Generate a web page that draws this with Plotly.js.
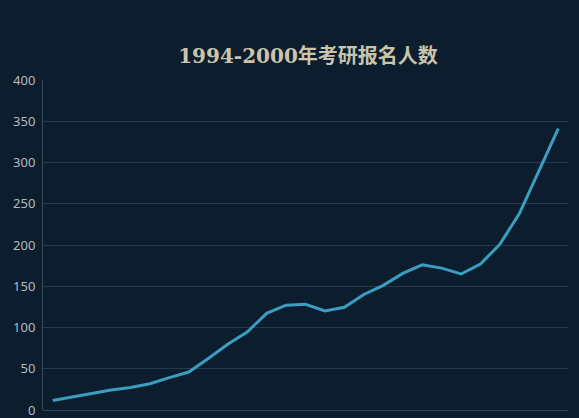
<!DOCTYPE html>
<html>
<head>
<meta charset="utf-8">
<script src="https://cdn.plot.ly/plotly-3.0.1.min.js"></script>
<style>html,body{margin:0;padding:0;background:#0c1d2d;}#chart{width:579px;height:418px;}</style>
</head>
<body>
<div id="chart"></div>
<script>
const years = ['1994','1995','1996','1997','1998','1999','2000','2001','2002','2003','2004','2005','2006','2007','2008','2009','2010','2011','2012','2013','2014','2015','2016','2017','2018','2019','2020'];
const applicants = [11.4,15.5,20.4,24.2,27.4,31.9,39.2,46,62.4,79.7,94.5,117.2,127.1,128.2,120,124.6,140,151.1,165.6,176,172,164.9,177,201,238,290,341];
const yTicks = [0,50,100,150,200,250,300,350,400];
const titleText = '1994-2000年考研报名人数';

Plotly.newPlot('chart', [{
  x: years, y: applicants, type: 'scatter', mode: 'lines',
  line: {color: '#3a9ec0', width: 3},
  hoverinfo: 'x+y'
}], {
  width: 579, height: 418,
  paper_bgcolor: '#0c1d2d', plot_bgcolor: '#0c1d2d',
  margin: {l: 43, r: 11, t: 80, b: 8},
  title: {text: '<b>' + titleText + '</b>', x: 0.532, xanchor: 'center', y: 0.866, yanchor: 'middle',
    font: {family: '"DejaVu Serif","Liberation Serif","Noto Sans CJK SC",serif', size: 20, color: '#c9c4ab'}},
  xaxis: {type: 'category', range: [-0.5, years.length - 0.5], showticklabels: false, showgrid: false,
    showline: false, zeroline: false, ticks: ''},
  yaxis: {range: [0, 400], tickmode: 'array', tickvals: yTicks, ticktext: yTicks.map(String),
    ticklabeloverflow: 'allow', ticklabelstandoff: 4,
    showgrid: true, gridcolor: '#25394a', gridwidth: 1,
    zeroline: true, zerolinecolor: '#34485a', zerolinewidth: 1, showline: true, linecolor: '#34485a', linewidth: 1,
    ticks: '', ticklen: 0,
    tickfont: {family: '"Noto Sans","DejaVu Sans",sans-serif', size: 13, color: '#b4bac0'}},
  showlegend: false
}, {displayModeBar: false, staticPlot: true});
</script>
</body>
</html>
